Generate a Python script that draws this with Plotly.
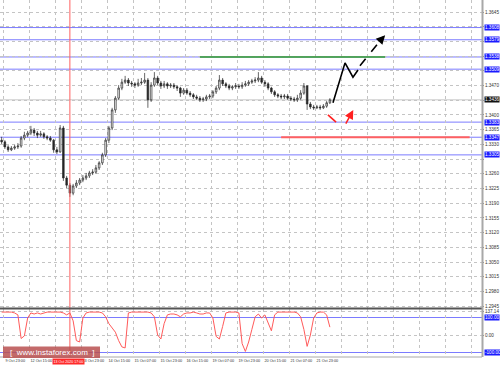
import plotly.graph_objects as go

# ---------------- data ----------------
# bar times in hours from the chart's left edge (2-hour bars)
bar_hours = list(range(1, 204, 2))
first_open = 1.3340
closes = [1.3336,1.3324,1.3317,1.3321,1.3324,1.3326,1.3345,1.3352,1.3357,1.3364,
          1.3357,1.3352,1.3355,1.3348,1.3345,1.3340,1.3317,1.3312,1.3369,1.3250,
          1.3233,1.3214,1.3231,1.3238,1.3245,1.3250,1.3255,1.3262,1.3264,1.3274,
          1.3286,1.3305,1.3340,1.3369,1.3412,1.3440,1.3464,1.3478,1.3483,1.3476,
          1.3474,1.3471,1.3476,1.3478,1.3483,1.3436,1.3471,1.3488,1.3476,1.3469,
          1.3474,1.3469,1.3471,1.3467,1.3464,1.3452,1.3459,1.3452,1.3448,1.3443,
          1.3440,1.3436,1.3438,1.3443,1.3445,1.3455,1.3464,1.3483,1.3474,1.3469,
          1.3464,1.3467,1.3469,1.3467,1.3471,1.3474,1.3478,1.3481,1.3483,1.3488,
          1.3478,1.3474,1.3464,1.3455,1.3448,1.3445,1.3443,1.3445,1.3440,1.3438,
          1.3436,1.3440,1.3452,1.3469,1.3426,1.3419,1.3417,1.3419,1.3417,1.3421,
          1.3429,1.3436]
highs = [1.3348,1.3340,1.3328,1.3326,1.3329,1.3333,1.3350,1.3360,1.3362,1.3374,
         1.3369,1.3362,1.3362,1.3359,1.3352,1.3350,1.3343,1.3324,1.3376,1.3374,
         1.3255,1.3238,1.3236,1.3245,1.3250,1.3257,1.3262,1.3267,1.3271,1.3281,
         1.3290,1.3310,1.3345,1.3374,1.3417,1.3445,1.3471,1.3486,1.3493,1.3488,
         1.3481,1.3478,1.3486,1.3488,1.3500,1.3488,1.3478,1.3502,1.3493,1.3481,
         1.3481,1.3478,1.3476,1.3476,1.3471,1.3467,1.3464,1.3464,1.3457,1.3452,
         1.3448,1.3445,1.3443,1.3448,1.3450,1.3459,1.3469,1.3495,1.3488,1.3478,
         1.3474,1.3471,1.3476,1.3474,1.3478,1.3481,1.3483,1.3486,1.3490,1.3502,
         1.3493,1.3483,1.3478,1.3467,1.3459,1.3452,1.3450,1.3450,1.3450,1.3445,
         1.3443,1.3448,1.3459,1.3476,1.3471,1.3431,1.3424,1.3424,1.3424,1.3426,
         1.3433,1.3440]
lows = [1.3331,1.3319,1.3312,1.3314,1.3317,1.3319,1.3322,1.3340,1.3347,1.3352,
        1.3350,1.3345,1.3348,1.3343,1.3340,1.3336,1.3310,1.3307,1.3310,1.3243,
        1.3226,1.3205,1.3209,1.3226,1.3233,1.3240,1.3245,1.3250,1.3257,1.3260,
        1.3269,1.3281,1.3300,1.3333,1.3364,1.3405,1.3436,1.3459,1.3474,1.3469,
        1.3467,1.3464,1.3467,1.3471,1.3474,1.3417,1.3431,1.3467,1.3471,1.3462,
        1.3464,1.3462,1.3464,1.3462,1.3457,1.3443,1.3448,1.3448,1.3443,1.3438,
        1.3436,1.3431,1.3431,1.3433,1.3438,1.3440,1.3450,1.3459,1.3469,1.3464,
        1.3459,1.3459,1.3462,1.3462,1.3462,1.3467,1.3469,1.3474,1.3476,1.3478,
        1.3474,1.3467,1.3459,1.3450,1.3443,1.3440,1.3438,1.3438,1.3436,1.3433,
        1.3431,1.3431,1.3436,1.3448,1.3412,1.3414,1.3412,1.3414,1.3412,1.3414,
        1.3417,1.3426]
opens = [first_open] + closes[:-1]

indicator = [131,131,130,131,126,115,-20,-5,97,126,
             120,126,120,126,131,131,131,131,131,126,
             115,126,81,-32,-40,97,126,131,131,131,
             131,126,104,65,40,16,-32,-68,-74,126,
             131,131,131,131,131,131,126,104,0,-23,
             65,115,120,120,115,104,120,126,126,131,
             126,120,120,126,126,97,-8,-23,49,126,
             131,131,131,126,-49,-94,-40,32,104,120,
             97,115,65,24,115,131,131,131,131,131,
             131,126,104,32,-65,0,97,126,131,131,
             115,45]

x_tick_hours = [2,18,34,50,66,82,98,114,130,146,162,178,194,210,226,242,258,274,290]
# the 13 Oct 07:00 label sits under the highlighted event label, so it is not shown
x_tick_text = ["9 Oct 23:00","12 Oct 15:00","","13 Oct 23:00","14 Oct 15:00",
               "15 Oct 07:00","15 Oct 23:00","16 Oct 15:00","19 Oct 07:00","19 Oct 23:00",
               "20 Oct 15:00","21 Oct 07:00","21 Oct 23:00","","","","","",""]
price_ticks = [1.2945,1.2980,1.3015,1.3050,1.3085,1.3120,1.3155,1.3190,1.3225,1.3260,
               1.3295,1.3330,1.3365,1.3400,1.3435,1.3470,1.3505,1.3540,1.3575,1.3610,1.3645]
blue_levels = [1.3608,1.3579,1.3538,1.3509,1.3383,1.3347,1.3305]
green_level = 1.3538
green_span = [123, 237]
red_level = 1.3347
red_span = [173, 289]
bid_price = 1.3436
event_hour = 43
event_label = "13 Oct 2020 17:00"
ind_levels = [100, -100]
ind_ticks = [137.14, 0]
ind_tick_text = ["137.14", "0.00"]

fc_black_x = [204.9, 212.3, 217.2, 220.3]
fc_black_y = [1.3429, 1.3524, 1.3490, 1.3507]
fc_black_dash_x = [221.5, 235.5]
fc_black_dash_y = [1.3517, 1.3584]
fc_red_x = [201.8, 206.8]
fc_red_y = [1.3400, 1.3383]
fc_red_arrow = [(212.3, 1.3376), (217.4, 1.3412)]

# ---------------- layout constants ----------------
W, H = 500, 367
XMAX = 296.6
px_x = lambda p: p / W
px_y = lambda p: 1 - p / H
MAIN_DOM = [px_y(308), 1]
IND_DOM = [px_y(357), px_y(309)]
MAIN_RANGE = [1.29406, 1.36736]
IND_RANGE = [-125.7, 148.6]
GRID = "#c4c4c4"
BLUE_LINE = "#7b7bff"
FONT = "Liberation Sans"
YFS = 4.6
XFS = 3.8

# tick labels that sit under a highlighted level box are hidden, as in the terminal
covered = []
for t in price_ticks:
    near = [lv for lv in blue_levels + [bid_price] if abs(lv - t) < 0.0012]
    covered.append("" if near else f"{t:.4f}")

fig = go.Figure()

fig.add_trace(go.Candlestick(
    x=bar_hours, open=opens, high=highs, low=lows, close=closes,
    increasing=dict(line=dict(color="#262626", width=0.7), fillcolor="#ffffff"),
    decreasing=dict(line=dict(color="#262626", width=0.7), fillcolor="#262626"),
    whiskerwidth=0, xaxis="x", yaxis="y", hoverinfo="skip"))

fig.add_trace(go.Scatter(x=bar_hours, y=indicator, mode="lines",
                         line=dict(color="#ff5a5a", width=1), xaxis="x", yaxis="y2",
                         hoverinfo="skip"))

# forecast drawings
fig.add_trace(go.Scatter(x=fc_black_x, y=fc_black_y, mode="lines",
                         line=dict(color="black", width=1.6), xaxis="x", yaxis="y"))
fig.add_trace(go.Scatter(x=fc_black_dash_x, y=fc_black_dash_y, mode="lines",
                         line=dict(color="black", width=1.6, dash="dash"), xaxis="x", yaxis="y"))
fig.add_trace(go.Scatter(x=fc_red_x, y=fc_red_y, mode="lines",
                         line=dict(color="#ff2020", width=1.6), xaxis="x", yaxis="y"))

shapes = []
for lv in blue_levels:
    shapes.append(dict(type="line", xref="x domain", x0=0, x1=1, yref="y", y0=lv, y1=lv,
                       line=dict(color=BLUE_LINE, width=1), layer="below"))
shapes.append(dict(type="line", xref="x domain", x0=0, x1=1, yref="y", y0=bid_price, y1=bid_price,
                   line=dict(color="#c8c8c8", width=1), layer="below"))
shapes.append(dict(type="line", xref="x", x0=green_span[0], x1=green_span[1], yref="y",
                   y0=green_level, y1=green_level, line=dict(color="#2e9a2e", width=1.5)))
shapes.append(dict(type="line", xref="x", x0=red_span[0], x1=red_span[1], yref="y",
                   y0=red_level, y1=red_level, line=dict(color="#ff6060", width=2)))
for lv in ind_levels:
    shapes.append(dict(type="line", xref="x domain", x0=0, x1=1, yref="y2", y0=lv, y1=lv,
                       line=dict(color=BLUE_LINE, width=1), layer="below"))
shapes.append(dict(type="line", xref="x", x0=event_hour, x1=event_hour, yref="paper",
                   y0=IND_DOM[0], y1=1, line=dict(color="#ff6060", width=1)))
# panel separator and borders
shapes.append(dict(type="line", xref="paper", x0=0, x1=px_x(482), yref="paper",
                   y0=px_y(308.5), y1=px_y(308.5), line=dict(color="#555555", width=2)))
shapes.append(dict(type="line", xref="paper", x0=px_x(482.5), x1=px_x(482.5), yref="paper",
                   y0=IND_DOM[0], y1=1, line=dict(color="#a8a8a8", width=2)))
shapes.append(dict(type="line", xref="paper", x0=0, x1=px_x(482), yref="paper",
                   y0=IND_DOM[0], y1=IND_DOM[0], line=dict(color="#a8a8a8", width=1)))
# watermark box
shapes.append(dict(type="rect", xref="paper", yref="paper", x0=px_x(3), x1=px_x(100),
                   y0=px_y(358), y1=px_y(346.5), fillcolor="rgba(185,80,80,0.85)",
                   line=dict(width=0)))

ann = []
for lv in blue_levels:
    ann.append(dict(xref="paper", x=px_x(484), xanchor="left", yref="y", y=lv,
                    text=f"{lv:.4f}", showarrow=False, bgcolor="#1a1aff", borderpad=0,
                    font=dict(color="white", size=YFS, family=FONT)))
ann.append(dict(xref="paper", x=px_x(484), xanchor="left", yref="y", y=bid_price,
                text=f"{bid_price:.4f}", showarrow=False, bgcolor="#111111", borderpad=0,
                font=dict(color="white", size=YFS, family=FONT)))
for lv in ind_levels:
    ann.append(dict(xref="paper", x=px_x(484), xanchor="left", yref="y2", y=lv,
                    text=f"{lv:.2f}", showarrow=False, bgcolor="#1a1aff", borderpad=0,
                    font=dict(color="white", size=YFS, family=FONT)))
ann.append(dict(xref="x", x=event_hour - 0.8, xanchor="center", yref="paper", y=px_y(361.5),
                yanchor="middle", text=event_label, showarrow=False, bgcolor="#ff2a2a",
                borderpad=0.6, font=dict(color="white", size=3.6, family=FONT)))
ann.append(dict(xref="paper", x=px_x(51.5), xanchor="center", yref="paper", y=px_y(352.3),
                yanchor="middle", text="[  www.instaforex.com  ]", showarrow=False,
                font=dict(color="white", size=8, family="Liberation Sans")))
# arrow heads
ann.append(dict(xref="x", yref="y", x=237.0, y=1.3590, axref="x", ayref="y",
                ax=fc_black_dash_x[1] - 2.5, ay=fc_black_dash_y[1] - 0.0011, text="",
                showarrow=True, arrowhead=2, arrowsize=1.2, arrowwidth=1.5, arrowcolor="black"))
ann.append(dict(xref="x", yref="y", x=fc_red_arrow[1][0], y=fc_red_arrow[1][1], axref="x", ayref="y",
                ax=fc_red_arrow[0][0], ay=fc_red_arrow[0][1], text="",
                showarrow=True, arrowhead=2, arrowsize=1.2, arrowwidth=1.5, arrowcolor="#ff2020"))

fig.update_layout(
    width=W, height=H, margin=dict(l=0, r=0, t=0, b=0, autoexpand=False),
    paper_bgcolor="white", plot_bgcolor="white", showlegend=False,
    shapes=shapes, annotations=ann,
    xaxis=dict(domain=[0, px_x(482)], range=[0, XMAX], anchor="y2",
               tickvals=x_tick_hours, ticktext=x_tick_text, tickangle=0, automargin=False,
               tickfont=dict(size=XFS, color="#333333", family=FONT),
               showgrid=True, gridcolor=GRID, griddash="dot", gridwidth=1,
               zeroline=False, showline=False, ticks="", ticklabelshift=12,
               rangeslider=dict(visible=False), fixedrange=True),
    yaxis=dict(domain=MAIN_DOM, range=MAIN_RANGE, anchor="x", side="right", automargin=False,
               tickvals=price_ticks, ticktext=covered,
               tickfont=dict(size=YFS, color="#333333", family=FONT),
               showgrid=True, gridcolor=GRID, griddash="dot", gridwidth=1,
               zeroline=False, showline=False, ticks="outside", ticklen=1, tickcolor="#888888"),
    yaxis2=dict(domain=IND_DOM, range=IND_RANGE, anchor="x", side="right", automargin=False,
                tickvals=ind_ticks, ticktext=ind_tick_text,
                tickfont=dict(size=YFS, color="#333333", family=FONT),
                showgrid=True, gridcolor=GRID, griddash="dot", gridwidth=1,
                zeroline=False, showline=False, ticks="outside", ticklen=1, tickcolor="#888888"),
)

fig.write_html("out.html")
